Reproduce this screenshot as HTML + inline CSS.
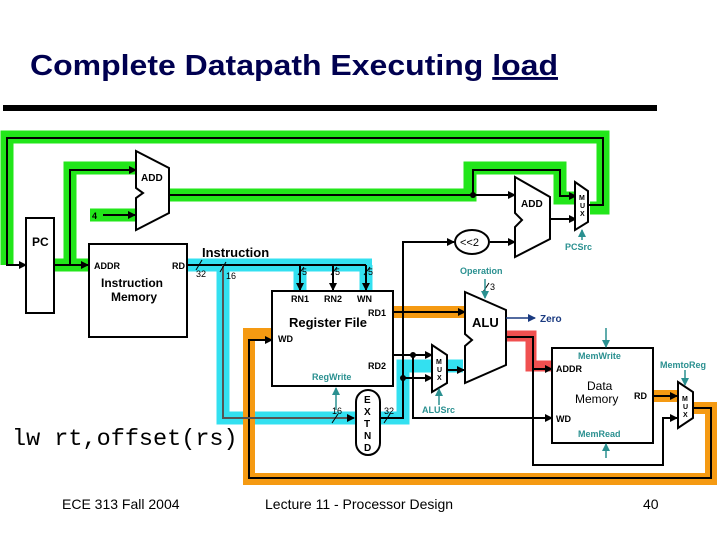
<!DOCTYPE html>
<html><head><meta charset="utf-8"><style>
html,body{margin:0;padding:0;background:#fff;width:720px;height:540px;overflow:hidden}
text{font-family:"Liberation Sans",Arial,sans-serif}
</style></head><body>
<svg width="720" height="540" viewBox="0 0 720 540" xmlns="http://www.w3.org/2000/svg">
<defs>
<marker id="a" markerWidth="8" markerHeight="8" refX="7" refY="4" orient="auto" markerUnits="userSpaceOnUse"><path d="M0,0 L8,4 L0,8 z" fill="#000"/></marker>
<marker id="t" markerWidth="8" markerHeight="8" refX="7" refY="4" orient="auto" markerUnits="userSpaceOnUse"><path d="M0,0 L8,4 L0,8 z" fill="#2a9090"/></marker>
<marker id="n" markerWidth="8" markerHeight="8" refX="7" refY="4" orient="auto" markerUnits="userSpaceOnUse"><path d="M0,0 L8,4 L0,8 z" fill="#1a3a80"/></marker>
</defs>
<text x="30" y="75" font-size="29" font-weight="bold" fill="#000050" textLength="528" lengthAdjust="spacingAndGlyphs">Complete Datapath Executing <tspan text-decoration="underline">load</tspan></text>
<rect x="3" y="105" width="654" height="6" fill="#000"/>

<g fill="none" stroke="#22e61a" stroke-width="13" stroke-linejoin="miter">
<polyline points="7,265 7,137 603,137 603,208 590,208"/>
<polyline points="54,265 70,265 70,168 136,168"/>
<polyline points="70,265 88,265"/>
<polyline points="90,215 135,215"/>
<polyline points="169,195 470,195 470,168 560,168 560,198 578,198"/>
</g>
<g fill="none" stroke="#33e0f0" stroke-width="13">
<polyline points="187,265 372,265"/>
<polyline points="300,265 300,290"/>
<polyline points="366,265 366,290"/>
<polyline points="223,265 223,418 355,418"/>
<polyline points="380,418 403,418 403,366 463,366"/>
</g>
<g fill="none" stroke="#f59a12" stroke-width="12">
<polyline points="393,312 465,312"/>
<polyline points="653,396 678,396"/>
<polyline points="693,408 711,408 711,479 249,479 249,334 272,334"/>
</g>
<polyline points="506,336 531,336 531,366 553,366" fill="none" stroke="#f05050" stroke-width="11"/>

<g fill="none" stroke="#000" stroke-width="2">
<polyline points="7,137 7,265 26,265" marker-end="url(#a)"/>
<polyline points="7,138 603,138 603,205 588,205"/>
<polyline points="54,265 88,265" marker-end="url(#a)"/>
<polyline points="70,265 70,170 136,170" marker-end="url(#a)"/>
<polyline points="103,215 135,215" marker-end="url(#a)"/>
<polyline points="169,195 515,195" marker-end="url(#a)"/>
<polyline points="473,195 473,170 560,170 560,196 576,196" marker-end="url(#a)"/>
<polyline points="550,219 576,219" marker-end="url(#a)"/>
<polyline points="403,378 403,242 454,242" marker-end="url(#a)"/>
<polyline points="490,242 515,242" marker-end="url(#a)"/>
<polyline points="187,265 366,265"/>
<polyline points="300,265 300,290" marker-end="url(#a)"/>
<polyline points="333,265 333,290" marker-end="url(#a)"/>
<polyline points="366,265 366,290" marker-end="url(#a)"/>
<polyline points="393,312 465,312" marker-end="url(#a)"/>
<polyline points="393,355 432,355" marker-end="url(#a)"/>
<polyline points="413,355 413,418 552,418" marker-end="url(#a)"/>
<polyline points="380,418 403,418 403,378 432,378" marker-end="url(#a)"/>
<polyline points="447,370 464,370" marker-end="url(#a)"/>
<polyline points="506,337 533,337 533,369 552,369" marker-end="url(#a)"/>
<polyline points="533,369 533,465 663,465 663,418 677,418" marker-end="url(#a)"/>
<polyline points="653,396 677,396" marker-end="url(#a)"/>
<polyline points="693,408 711,408 711,478 249,478 249,340 272,340" marker-end="url(#a)"/>
</g>
<polyline points="223,265 223,418 354,418" fill="none" stroke="#555" stroke-width="2" marker-end="url(#a)"/>
<circle cx="473" cy="195" r="3"/><circle cx="413" cy="355" r="3"/><circle cx="403" cy="378" r="3"/>

<g stroke="#000" stroke-width="1"><line x1="196" y1="270" x2="202" y2="260"/><line x1="220" y1="272" x2="226" y2="262"/>
<line x1="298" y1="275" x2="304" y2="267"/><line x1="331" y1="275" x2="337" y2="267"/><line x1="364" y1="275" x2="370" y2="267"/>
<line x1="332" y1="423" x2="338" y2="414"/><line x1="384" y1="423" x2="390" y2="414"/><line x1="483" y1="292" x2="489" y2="283"/></g>
<g font-size="9" fill="#000"><text x="196" y="277">32</text><text x="226" y="279">16</text>
<text x="302" y="275">5</text><text x="335" y="275">5</text><text x="368" y="275">5</text>
<text x="332" y="414">16</text><text x="384" y="414">32</text><text x="490" y="290">3</text></g>

<g fill="#fff" stroke="#000" stroke-width="2">
<polygon points="136,151 169,168 169,213 136,230 136,198 143,193 136,188"/>
<polygon points="515,177 550,197 550,239 515,257 515,227 522,220 515,213"/>
<polygon points="575,182 588,191 588,222 575,230"/>
<polygon points="432,345 447,355 447,383 432,392"/>
<polygon points="678,382 693,392 693,418 678,428"/>
<polygon points="465,292 506,310 506,365 465,383 465,346 472,340 465,334"/>
<ellipse cx="472" cy="242" rx="17" ry="12"/>
<rect x="26" y="218" width="28" height="95"/>
<rect x="89" y="244" width="98" height="93"/>
<rect x="272" y="291" width="121" height="95"/>
<rect x="552" y="348" width="101" height="95"/>
<rect x="356" y="390" width="24" height="65" rx="12"/>
</g>
<g font-weight="bold" fill="#000">
<text x="141" y="181" font-size="10">ADD</text>
<text x="521" y="207" font-size="10">ADD</text>
<text x="32" y="246" font-size="12">PC</text>
<text x="94" y="269" font-size="9">ADDR</text><text x="172" y="269" font-size="9">RD</text>
<text x="101" y="287" font-size="12">Instruction</text><text x="111" y="301" font-size="12">Memory</text>
<text x="202" y="257" font-size="13">Instruction</text>
<text x="291" y="302" font-size="9">RN1</text><text x="324" y="302" font-size="9">RN2</text><text x="357" y="302" font-size="9">WN</text>
<text x="289" y="327" font-size="13">Register File</text>
<text x="368" y="316" font-size="9">RD1</text><text x="278" y="342" font-size="9">WD</text><text x="368" y="369" font-size="9">RD2</text>
<text x="472" y="327" font-size="13">ALU</text>
<text x="460" y="246" font-size="11" font-weight="normal">&lt;&lt;2</text>
<text x="556" y="372" font-size="9">ADDR</text><text x="634" y="399" font-size="9">RD</text><text x="556" y="422" font-size="9">WD</text>
<text x="587" y="390" font-size="12" font-weight="normal">Data</text><text x="575" y="403" font-size="12" font-weight="normal">Memory</text>
<g font-size="7"><text x="579" y="200">M</text><text x="580" y="208">U</text><text x="580" y="216">X</text>
<text x="436" y="364">M</text><text x="437" y="372">U</text><text x="437" y="380">X</text>
<text x="682" y="401">M</text><text x="683" y="409">U</text><text x="683" y="417">X</text></g>
<g font-size="10"><text x="364" y="403">E</text><text x="364" y="415">X</text><text x="364" y="427">T</text><text x="364" y="439">N</text><text x="364" y="451">D</text></g>
</g>
<text x="92" y="219" font-size="9" font-weight="bold">4</text>

<g fill="#2a9090" font-size="9" font-weight="bold">
<text x="565" y="250">PCSrc</text><text x="460" y="274">Operation</text><text x="312" y="380">RegWrite</text>
<text x="422" y="413">ALUSrc</text><text x="578" y="359">MemWrite</text><text x="578" y="437">MemRead</text><text x="660" y="368">MemtoReg</text>
</g>
<g stroke="#2a9090" stroke-width="1.5" fill="none">
<line x1="582" y1="240" x2="582" y2="230" marker-end="url(#t)"/>
<line x1="485" y1="279" x2="485" y2="298" marker-end="url(#t)"/>
<line x1="336" y1="410" x2="336" y2="388" marker-end="url(#t)"/>
<line x1="439" y1="405" x2="439" y2="389" marker-end="url(#t)"/>
<line x1="606" y1="328" x2="606" y2="347" marker-end="url(#t)"/>
<line x1="606" y1="458" x2="606" y2="444" marker-end="url(#t)"/>
<line x1="685" y1="370" x2="685" y2="385" marker-end="url(#t)"/>
</g>
<line x1="506" y1="318" x2="535" y2="318" stroke="#1a3a80" stroke-width="1.5" marker-end="url(#n)"/>
<text x="540" y="322" font-size="10" font-weight="bold" fill="#1a3a80">Zero</text>

<text x="12" y="445" style="font-family:'Liberation Mono',monospace" font-size="23.5" fill="#000">lw rt,offset(rs)</text>
<g font-size="14" fill="#000"><text x="62" y="509">ECE 313 Fall 2004</text><text x="265" y="509">Lecture 11 - Processor Design</text><text x="643" y="509">40</text></g>
</svg>
</body></html>
